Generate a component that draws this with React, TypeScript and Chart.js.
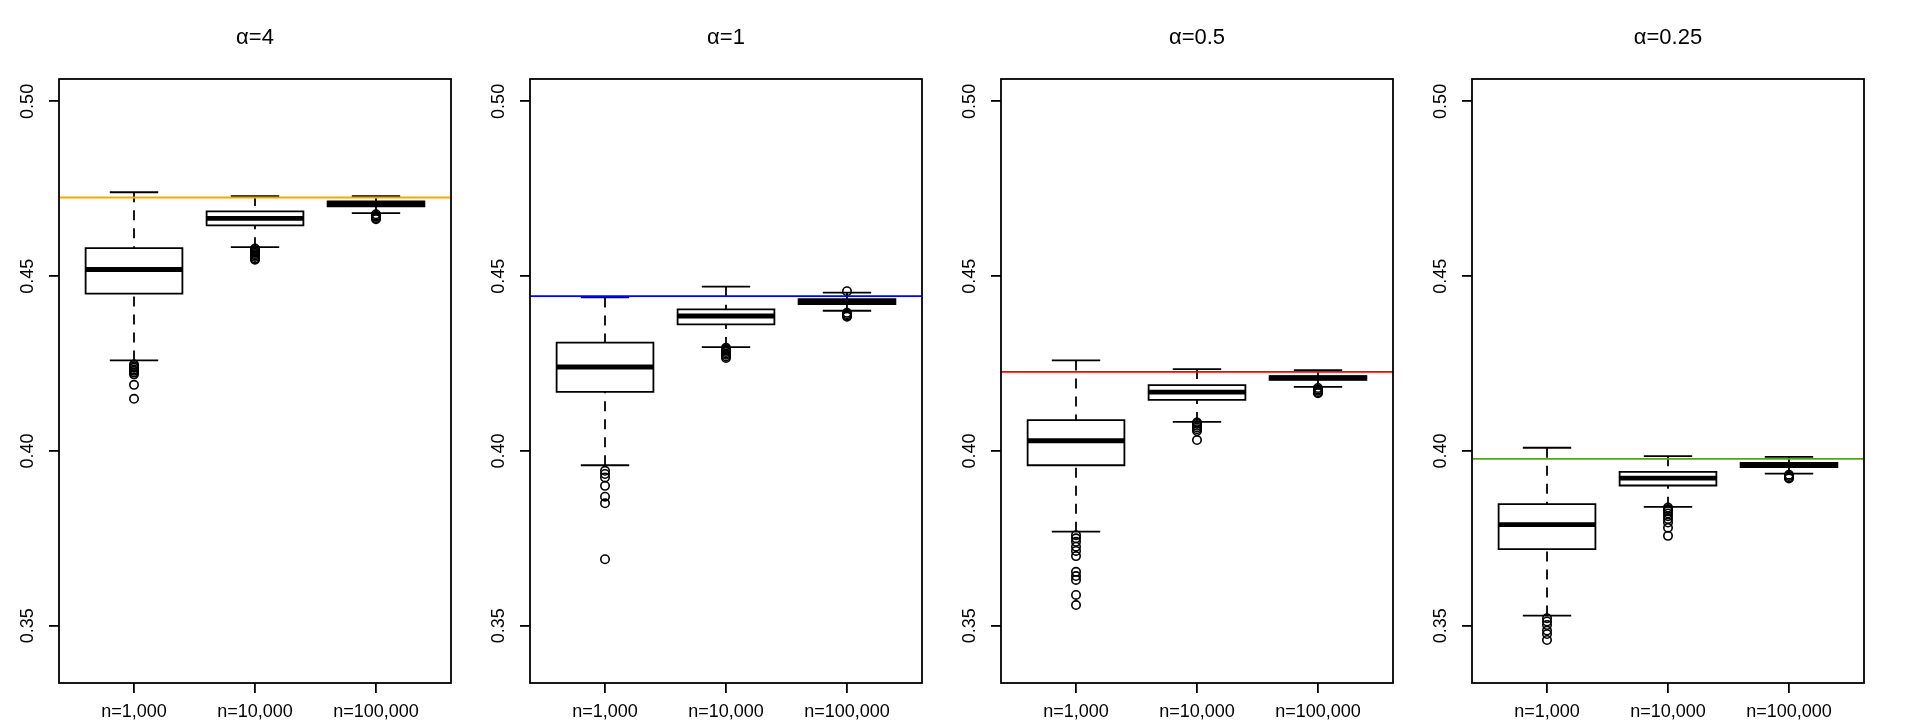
import React, { useEffect, useRef } from "react";
import { Chart, registerables } from "chart.js";

Chart.register(...registerables);

// ---------- data ----------
const CATEGORIES = ["n=1,000", "n=10,000", "n=100,000"];
const PANEL_TITLES = ["α=4", "α=1", "α=0.5", "α=0.25"];
const TRUE_VALUES = [0.4725, 0.4443, 0.4226, 0.3977];
const LINE_COLORS = ["#FFA500", "#0000FF", "#FF0000", "#5AA01E"];
const Y_TICKS = [0.35, 0.4, 0.45, 0.5];
const Y_RANGE = [0.3336, 0.5064];
const X_RANGE = [0.38, 3.62];

// each box: [lower whisker, Q1, median, Q3, upper whisker]
const STATS_A4 = [
  [0.4259, 0.445, 0.4519, 0.458, 0.474],
  [0.4583, 0.4645, 0.4665, 0.4685, 0.4729],
  [0.468, 0.47, 0.4707, 0.4714, 0.4729],
];
const OUTLIERS_A4 = [
  [0.4247, 0.4242, 0.4238, 0.4233, 0.4229, 0.4224, 0.4219, 0.4189, 0.4149],
  [0.4579, 0.4575, 0.4571, 0.4567, 0.4563, 0.4559, 0.4555, 0.455, 0.4547],
  [0.4677, 0.4673, 0.467, 0.4666, 0.4663],
];

const STATS_A1 = [
  [0.3959, 0.4169, 0.424, 0.431, 0.4439],
  [0.4297, 0.4362, 0.4386, 0.4405, 0.447],
  [0.4401, 0.442, 0.4427, 0.4434, 0.4453],
];
const OUTLIERS_A1 = [
  [0.3943, 0.3934, 0.3924, 0.39, 0.3869, 0.385, 0.369],
  [0.4295, 0.4291, 0.4287, 0.4283, 0.4279, 0.4275, 0.427, 0.4266],
  [0.4457, 0.4395, 0.4391, 0.4387, 0.4384],
];

const STATS_A05 = [
  [0.3769, 0.3959, 0.4029, 0.4088, 0.4259],
  [0.4083, 0.4146, 0.4168, 0.4188, 0.4234],
  [0.4183, 0.4203, 0.4209, 0.4214, 0.4231],
];
const OUTLIERS_A05 = [
  [0.3759, 0.375, 0.374, 0.3726, 0.3714, 0.3699, 0.3654, 0.3642, 0.3631, 0.3588, 0.3559],
  [0.4081, 0.4077, 0.4072, 0.4067, 0.4062, 0.4057, 0.4031],
  [0.418, 0.4176, 0.4172, 0.4168, 0.4165],
];

const STATS_A025 = [
  [0.3529, 0.3719, 0.3789, 0.3848, 0.4009],
  [0.384, 0.3901, 0.3922, 0.394, 0.3985],
  [0.3935, 0.3954, 0.396, 0.3966, 0.3983],
];
const OUTLIERS_A025 = [
  [0.3521, 0.3512, 0.3502, 0.3486, 0.3476, 0.3459],
  [0.3838, 0.3833, 0.3828, 0.3821, 0.3813, 0.3805, 0.3795, 0.378, 0.3757],
  [0.3932, 0.3928, 0.3924, 0.3921],
];

const PANEL_STATS = [STATS_A4, STATS_A1, STATS_A05, STATS_A025];
const PANEL_OUTLIERS = [OUTLIERS_A4, OUTLIERS_A1, OUTLIERS_A05, OUTLIERS_A025];

// ---------- styling ----------
const FONT = "'Liberation Sans', Arial, sans-serif";
const LW = 1.8;
const BOX_HALF = 0.4;
const CAP_HALF = 0.2;
const PANEL_W = 471;
const H = 724;

function seg(points: { x: number; y: number }[], extra: any) {
  return {
    data: points,
    showLine: true,
    pointRadius: 0,
    pointHoverRadius: 0,
    borderColor: "#000",
    borderWidth: LW,
    tension: 0,
    fill: false,
    ...extra,
  };
}

function buildDatasets(p: number) {
  const ds: any[] = [];
  ds.push(
    seg(
      [
        { x: X_RANGE[0], y: TRUE_VALUES[p] },
        { x: X_RANGE[1], y: TRUE_VALUES[p] },
      ],
      { borderColor: LINE_COLORS[p], borderWidth: 1.8, order: 0 }
    )
  );
  PANEL_STATS[p].forEach((s, i) => {
    const x = i + 1;
    const [lo, q1, med, q3, hi] = s;
    // box
    ds.push(
      seg(
        [
          { x: x - BOX_HALF, y: q1 },
          { x: x + BOX_HALF, y: q1 },
          { x: x + BOX_HALF, y: q3 },
          { x: x - BOX_HALF, y: q3 },
          { x: x - BOX_HALF, y: q1 },
        ],
        { borderCapStyle: "square", borderJoinStyle: "miter", order: 2 }
      )
    );
    // median
    ds.push(
      seg(
        [
          { x: x - BOX_HALF, y: med },
          { x: x + BOX_HALF, y: med },
        ],
        { borderWidth: 4.8, borderCapStyle: "butt", order: 1 }
      )
    );
    // whiskers (drawn from cap toward box)
    ds.push(
      seg(
        [
          { x, y: lo },
          { x, y: q1 },
        ],
        { borderDash: [10, 8], order: 3 }
      )
    );
    ds.push(
      seg(
        [
          { x, y: hi },
          { x, y: q3 },
        ],
        { borderDash: [10, 8], order: 3 }
      )
    );
    // caps
    ds.push(
      seg(
        [
          { x: x - CAP_HALF, y: lo },
          { x: x + CAP_HALF, y: lo },
        ],
        { order: 3 }
      )
    );
    ds.push(
      seg(
        [
          { x: x - CAP_HALF, y: hi },
          { x: x + CAP_HALF, y: hi },
        ],
        { order: 3 }
      )
    );
    // outliers
    ds.push({
      data: PANEL_OUTLIERS[p][i].map((v) => ({ x, y: v })),
      showLine: false,
      pointStyle: "circle",
      pointRadius: 4.2,
      pointHoverRadius: 4.2,
      pointBorderWidth: 1.6,
      borderWidth: 1.6,
      pointBorderColor: "#000",
      borderColor: "#000",
      pointBackgroundColor: "rgba(0,0,0,0)",
      backgroundColor: "rgba(0,0,0,0)",
      order: 4,
    });
  });
  return ds;
}

const framePlugin = {
  id: "plotFrame",
  afterDraw(chart: any) {
    const { ctx, chartArea } = chart;
    const { left, top, right, bottom } = chartArea;
    ctx.save();
    ctx.strokeStyle = "#000";
    ctx.lineWidth = LW;
    ctx.strokeRect(left, top, right - left, bottom - top);
    ctx.restore();
  },
};

function Panel({ index }: { index: number }) {
  const ref = useRef<HTMLCanvasElement | null>(null);
  useEffect(() => {
    if (!ref.current) return;
    const chart = new Chart(ref.current, {
      type: "scatter",
      data: { datasets: buildDatasets(index) },
      plugins: [framePlugin],
      options: {
        animation: false,
        responsive: false,
        devicePixelRatio: 1,
        events: [],
        layout: { padding: { left: 0, right: 20, top: 0, bottom: 0 } },
        plugins: {
          legend: { display: false },
          tooltip: { enabled: false },
          title: {
            display: true,
            text: PANEL_TITLES[index],
            fullSize: false,
            color: "#000",
            font: { family: FONT, size: 22, weight: "normal", lineHeight: 1.2 },
            padding: { top: 24.3, bottom: 28.3 },
          },
        },
        scales: {
          x: {
            type: "linear",
            min: X_RANGE[0],
            max: X_RANGE[1],
            afterBuildTicks: (s: any) => {
              s.ticks = CATEGORIES.map((_, i) => ({ value: i + 1 }));
            },
            afterFit: (s: any) => {
              s.height = 41;
            },
            ticks: {
              callback: (v: any) => CATEGORIES[Math.round(Number(v)) - 1] ?? "",
              autoSkip: false,
              minRotation: 0,
              maxRotation: 0,
              padding: 8,
              color: "#000",
              font: { family: FONT, size: 18 },
            },
            grid: {
              display: true,
              drawOnChartArea: false,
              drawTicks: true,
              tickLength: 10,
              color: "#000",
              lineWidth: LW,
            },
            border: { display: false },
          },
          y: {
            type: "linear",
            min: Y_RANGE[0],
            max: Y_RANGE[1],
            afterBuildTicks: (s: any) => {
              s.ticks = Y_TICKS.map((v) => ({ value: v }));
            },
            afterFit: (s: any) => {
              s.width = 59;
            },
            ticks: {
              callback: (v: any) => Number(v).toFixed(2),
              autoSkip: false,
              minRotation: 90,
              maxRotation: 90,
              crossAlign: "center",
              padding: 3,
              color: "#000",
              font: { family: FONT, size: 18 },
            },
            grid: {
              display: true,
              drawOnChartArea: false,
              drawTicks: true,
              tickLength: 10,
              color: "#000",
              lineWidth: LW,
            },
            border: { display: false },
          },
        },
      } as any,
    });
    return () => chart.destroy();
  }, [index]);
  return (
    <canvas
      ref={ref}
      width={PANEL_W}
      height={H}
      style={{
        position: "absolute",
        left: PANEL_W * index,
        top: 0,
        width: PANEL_W,
        height: H,
      }}
    />
  );
}

export default function App() {
  return (
    <div
      style={{
        position: "absolute",
        left: 0,
        top: 0,
        width: 1924,
        height: H,
        background: "#fff",
        overflow: "hidden",
      }}
    >
      {PANEL_TITLES.map((_, i) => (
        <Panel key={i} index={i} />
      ))}
    </div>
  );
}
